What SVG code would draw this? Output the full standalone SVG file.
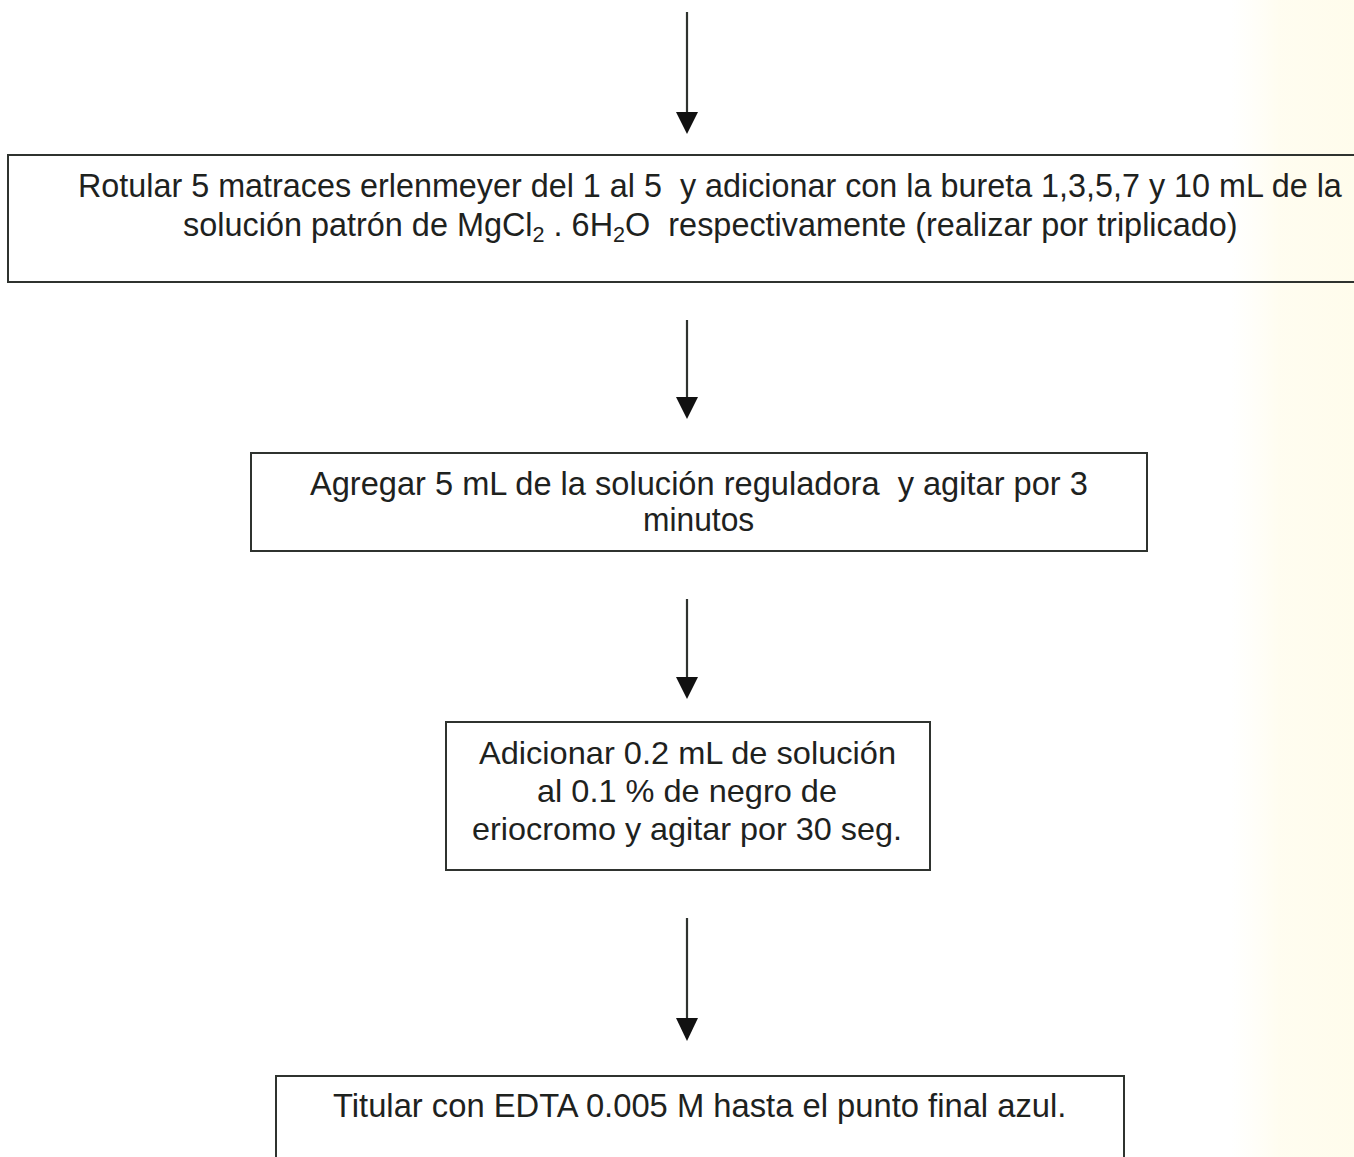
<svg xmlns="http://www.w3.org/2000/svg" width="1354" height="1157" viewBox="0 0 1354 1157">
<defs>
<style>
.box{fill:none;stroke:#2f332f;stroke-width:2}
.c{font-family:"Liberation Sans",Arial,sans-serif;font-size:33px;fill:#1e221e;white-space:pre}
.n{font-family:"Liberation Sans",Arial,sans-serif;font-size:32px;fill:#1e221e;white-space:pre}
.ln{stroke:#2f332f;stroke-width:2.2;fill:none}
.hd{fill:#111}
</style>
<linearGradient id="bg" x1="0" y1="0" x2="1" y2="0">
<stop offset="0" stop-color="#fffdf0" stop-opacity="0"/>
<stop offset="0.4" stop-color="#fffcec" stop-opacity="0.8"/>
<stop offset="1" stop-color="#fffcea" stop-opacity="0.9"/>
</linearGradient>
</defs>
<rect x="0" y="0" width="1354" height="1157" fill="#ffffff"/>
<rect x="1230" y="0" width="124" height="1157" fill="url(#bg)"/>
<g id="connectors">
<line class="ln" x1="687" y1="12" x2="687" y2="114"/>
<polygon class="hd" points="676,112 698,112 687,134"/>
<line class="ln" x1="687" y1="320" x2="687" y2="399"/>
<polygon class="hd" points="676,397 698,397 687,419"/>
<line class="ln" x1="687" y1="599" x2="687" y2="679"/>
<polygon class="hd" points="676,677 698,677 687,699"/>
<line class="ln" x1="687" y1="918" x2="687" y2="1020"/>
<polygon class="hd" points="676,1018 698,1018 687,1041"/>
</g>
<g id="node1">
<rect class="box" x="8" y="155" width="1360" height="127"/>
<text class="c" transform="translate(78,197) scale(0.89,1)" x="0" y="0" textLength="1420" lengthAdjust="spacingAndGlyphs">Rotular 5 matraces erlenmeyer del 1 al 5  y adicionar con la bureta 1,3,5,7 y 10 mL de la</text>
<text class="c" transform="translate(183,236) scale(0.89,1)" x="0" y="0" textLength="1185" lengthAdjust="spacingAndGlyphs">solución patrón de MgCl<tspan font-size="22" dy="6">2</tspan><tspan dy="-6"> . 6H</tspan><tspan font-size="22" dy="6">2</tspan><tspan dy="-6">O  respectivamente (realizar por triplicado)</tspan></text>
</g>
<g id="node2">
<rect class="box" x="251" y="453" width="896" height="98"/>
<text class="c" transform="translate(310,495) scale(0.89,1)" x="0" y="0" textLength="874" lengthAdjust="spacingAndGlyphs">Agregar 5 mL de la solución reguladora  y agitar por 3</text>
<text class="c" transform="translate(643,531) scale(0.89,1)" x="0" y="0" textLength="125" lengthAdjust="spacingAndGlyphs">minutos</text>
</g>
<g id="node3">
<rect class="box" x="446" y="722" width="484" height="148"/>
<text class="n" x="479" y="764" textLength="417" lengthAdjust="spacingAndGlyphs">Adicionar 0.2 mL de solución</text>
<text class="n" x="537" y="802" textLength="300" lengthAdjust="spacingAndGlyphs">al 0.1 % de negro de</text>
<text class="n" x="472" y="840" textLength="430" lengthAdjust="spacingAndGlyphs">eriocromo y agitar por 30 seg.</text>
</g>
<g id="node4">
<rect class="box" x="276" y="1076" width="848" height="100"/>
<text class="c" transform="translate(333,1117) scale(0.89,1)" x="0" y="0" textLength="824" lengthAdjust="spacingAndGlyphs">Titular con EDTA 0.005 M hasta el punto final azul.</text>
</g>
</svg>
